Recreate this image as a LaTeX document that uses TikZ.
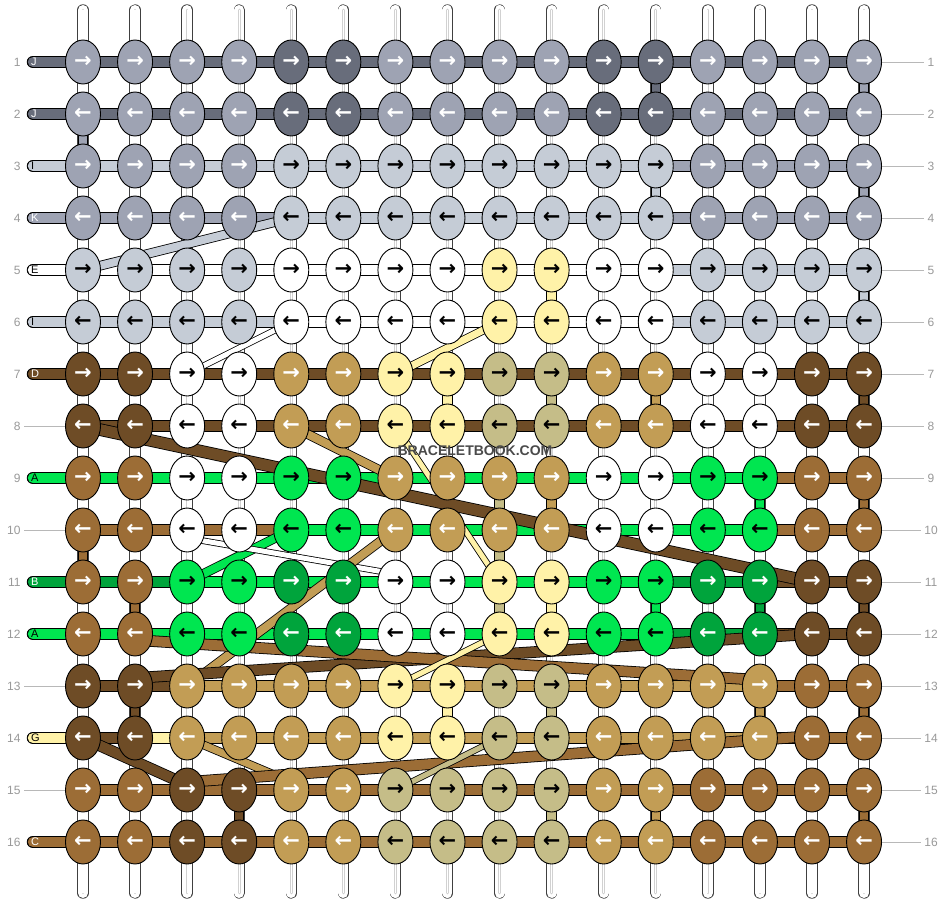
\documentclass[tikz,border=0pt]{standalone}
\usepackage{fontspec}
\setmainfont{Liberation Sans}
\newfontfamily\arrowfont{DejaVu Sans}
\usepackage{tikz}
\usetikzlibrary{shapes.geometric, calc}
\definecolor{sJ}{HTML}{686D7B}
\definecolor{sK}{HTML}{9EA3B3}
\definecolor{sI}{HTML}{C5CCD6}
\definecolor{sE}{HTML}{FFFFFF}
\definecolor{sY}{HTML}{FFF2A8}
\definecolor{sD}{HTML}{6E4C26}
\definecolor{sC}{HTML}{9C6D36}
\definecolor{sT}{HTML}{C29D55}
\definecolor{sQ}{HTML}{C5BD88}
\definecolor{sA}{HTML}{00E650}
\definecolor{sB}{HTML}{00A43C}
\colorlet{aJ}{white}
\colorlet{aK}{white}
\colorlet{aI}{black}
\colorlet{aE}{black}
\colorlet{aY}{black}
\colorlet{aD}{white}
\colorlet{aC}{white}
\colorlet{aT}{white}
\colorlet{aQ}{black}
\colorlet{aA}{black}
\colorlet{aB}{white}
\definecolor{numgray}{HTML}{999999}
\definecolor{markgray}{HTML}{4A4A4A}
\tikzstyle{knot} = [ellipse, draw=black, line width=0.9pt, minimum width=35pt, minimum height=44pt, inner sep=0pt, font=\arrowfont\bfseries\fontsize{21}{21}\selectfont]
\tikzstyle{hseg} = [draw=black, line width=1pt]
\tikzstyle{vseg} = [draw=black, line width=1pt]
\tikzstyle{carry} = [draw=black, line width=0.8pt]
\tikzstyle{tube} = [draw=black!75, line width=0.7pt, line cap=round]
\tikzstyle{tubecore} = [black!18, line width=2.6pt, line cap=round]
\tikzstyle{rownum} = [text=numgray, font=\fontsize{12}{12}\selectfont]
\tikzstyle{numline} = [draw=numgray!70, line width=0.6pt]
\tikzstyle{tag} = [anchor=west, inner sep=0pt, font=\fontsize{11}{11}\selectfont]

\begin{document}
\begin{tikzpicture}[x=1pt, y=-1pt]
	\useasboundingbox (0,0) rectangle (948,904);
	\fill [white] (0,0) rectangle (948,904);

	\foreach \r in {1,...,16}
		\foreach \c in {1,...,16}
			\coordinate (p-\r-\c) at ({83+52.07*(\c-1)}, {62+52*(\r-1)});

	\foreach \c in {1,...,16} {
		\coordinate (top-\c) at ($(p-1-\c)+(0,-52)$);
		\coordinate (bot-\c) at ($(p-16-\c)+(0,51)$);
		\draw [tube, double=white, double distance=10pt] (top-\c) -- (bot-\c);
		\draw [tubecore] (top-\c) -- (bot-\c);
		\draw [white, line width=1.2pt] (top-\c) -- (bot-\c);
	}

	\foreach \r/\segs in {
		1/{J,J,J,J,J,J,J,J,J,J,J,J,J,J,J,J},
		2/{J,J,J,J,J,J,J,J,J,J,J,J,J,J,J,J},
		3/{I,I,I,I,I,I,I,I,I,I,I,I,K,K,K,K},
		4/{K,K,K,K,K,I,I,I,I,I,I,I,K,K,K,K},
		5/{E,E,E,E,E,E,E,E,E,E,E,E,I,I,I,I},
		6/{I,I,I,I,I,E,E,E,E,E,E,E,I,I,I,I},
		7/{D,D,D,D,D,D,D,D,D,D,D,D,D,D,D,D},
		8/{N,D,D,D,D,D,D,D,D,D,D,D,D,D,D,D},
		9/{A,A,A,A,A,A,A,A,A,A,A,A,A,A,C,C},
		10/{N,C,C,C,C,A,A,A,A,A,A,A,A,A,C,C},
		11/{B,B,B,A,A,A,A,A,A,A,A,A,B,B,D,D},
		12/{A,A,A,A,A,A,A,A,A,A,A,A,B,B,D,D},
		13/{N,D,D,T,T,T,T,T,T,T,T,T,T,T,C,C},
		14/{Y,D,Y,T,T,T,T,T,T,T,T,T,T,T,C,C},
		15/{N,C,C,C,C,C,C,C,C,C,C,C,C,C,C,C},
		16/{C,C,C,C,C,C,C,C,C,C,C,C,C,C,C,C}} {
		\coordinate (lead-\r) at ($(p-\r-1)+(-50,0)$);
		\foreach \s [count=\i from 0] in \segs {
			\pgfmathtruncatemacro\nx{\i+1}
			\if\s N\else
				\ifnum\i=0
					\draw [hseg, double=s\s, double distance=10.5pt, line cap=round] (lead-\r) -- (p-\r-1);
				\else
					\draw [hseg, double=s\s, double distance=10.5pt] (p-\r-\i) -- (p-\r-\nx);
				\fi
			\fi
		}
	}

	\foreach \c/\r/\k in {1/2/K, 12/1/J, 16/1/K, 12/3/I, 16/3/K, 10/5/Y, 16/5/I,
		8/7/Y, 10/7/Q, 12/7/T, 16/7/D, 9/9/Q, 10/9/T, 14/9/A, 16/9/C, 1/10/C, 9/10/Q,
		2/11/C, 9/11/Q, 10/11/Y, 12/11/A, 14/11/B, 16/11/D, 2/13/D, 8/13/Y, 10/13/Q,
		14/13/T, 16/13/C, 4/15/D, 10/15/Q, 12/15/T, 16/15/C} {
		\pgfmathtruncatemacro\rn{\r+1}
		\draw [vseg, double=s\k, double distance=8.5pt] (p-\r-\c) -- (p-\rn-\c);
	}

	\draw [carry, double=sI, double distance=8pt] (p-4-5) -- (p-5-1);
	\draw [carry, double=sE, double distance=5pt] (p-6-5) -- (p-7-3);
	\draw [carry, double=sY, double distance=7pt] (p-6-9) -- (p-7-7);
	\draw [carry, double=sT, double distance=8pt] (p-8-5) -- (p-9-7);
	\draw [carry, double=sY, double distance=5pt] (p-8-7) -- (p-11-9);
	\draw [carry, double=sD, double distance=11pt] (p-8-1) -- (p-11-15);
	\draw [carry, double=sA, double distance=8pt] (p-10-5) -- (p-11-3);
	\draw [carry, double=sE, double distance=5pt] ($(p-10-3)+(0,8)$) -- ($(p-11-7)+(0,-8)$);
	\draw [carry, double=sT, double distance=8pt] (p-10-7) -- (p-13-3);
	\draw [carry, double=sD, double distance=10pt] (p-12-15) -- ($(p-13-2)+(0,-8)$);
	\draw [carry, double=sC, double distance=10pt] ($(p-12-2)+(0,6)$) -- ($(p-13-14)+(0,-6)$);
	\draw [carry, double=sY, double distance=5pt] (p-12-9) -- (p-13-7);
	\draw [carry, double=sD, double distance=10pt] (p-14-1) -- ($(p-15-3)+(0,-5)$);
	\draw [carry, double=sT, double distance=7pt] (p-14-3) -- ($(p-15-5)+(0,-8)$);
	\draw [carry, double=sC, double distance=10pt] ($(p-15-3)+(0,-8)$) -- ($(p-14-15)+(0,-2)$);
	\draw [carry, double=sQ, double distance=5pt] (p-14-9) -- (p-15-7);

	\foreach \pr/\knots in {
		1/{K,K,K,K,J,J,K,K,K,K,J,J,K,K,K,K},
		2/{K,K,K,K,I,I,I,I,I,I,I,I,K,K,K,K},
		3/{I,I,I,I,E,E,E,E,Y,Y,E,E,I,I,I,I},
		4/{D,D,E,E,T,T,Y,Y,Q,Q,T,T,E,E,D,D},
		5/{C,C,E,E,A,A,T,T,T,T,E,E,A,A,C,C},
		6/{C,C,A,A,B,B,E,E,Y,Y,A,A,B,B,D,D},
		7/{D,D,T,T,T,T,Y,Y,Q,Q,T,T,T,T,C,C},
		8/{C,C,D,D,T,T,Q,Q,Q,Q,T,T,C,C,C,C}} {
		\pgfmathtruncatemacro\ra{2*\pr-1}
		\pgfmathtruncatemacro\rb{2*\pr}
		\foreach \k [count=\c] in \knots {
			\node [knot, fill=s\k, text=a\k] (k-\ra-\c) at (p-\ra-\c) {→};
			\node [knot, fill=s\k, text=a\k] (k-\rb-\c) at (p-\rb-\c) {←};
		}
	}

	\foreach \r in {1,...,16} {
		\node [rownum, anchor=east] (numL-\r) at ($(p-\r-1)+(-59,0)$) {\r};
		\node [rownum] (numR-\r) at ($(p-\r-16)+(67,0)$) {\r};
		\draw [numline] (k-\r-16.east) -- (numR-\r.west);
	}
	\foreach \r in {8,10,13,15}
		\draw [numline] (numL-\r.east) -- (k-\r-1.west);
	\foreach \r/\lab/\k in {1/J/J, 2/J/J, 3/I/I, 4/K/K, 5/E/E, 6/I/I, 7/D/D, 9/A/A, 11/B/B, 12/A/A, 14/G/Y, 16/C/C}
		\node [tag, text=a\k] (lab-\r) at ($(p-\r-1)+(-52,0)$) {\lab};

	\node [text=markgray, font=\bfseries\fontsize{14}{14}\selectfont] (mark) at (475,451) {BRACELETBOOK.COM};
\end{tikzpicture}
\end{document}
